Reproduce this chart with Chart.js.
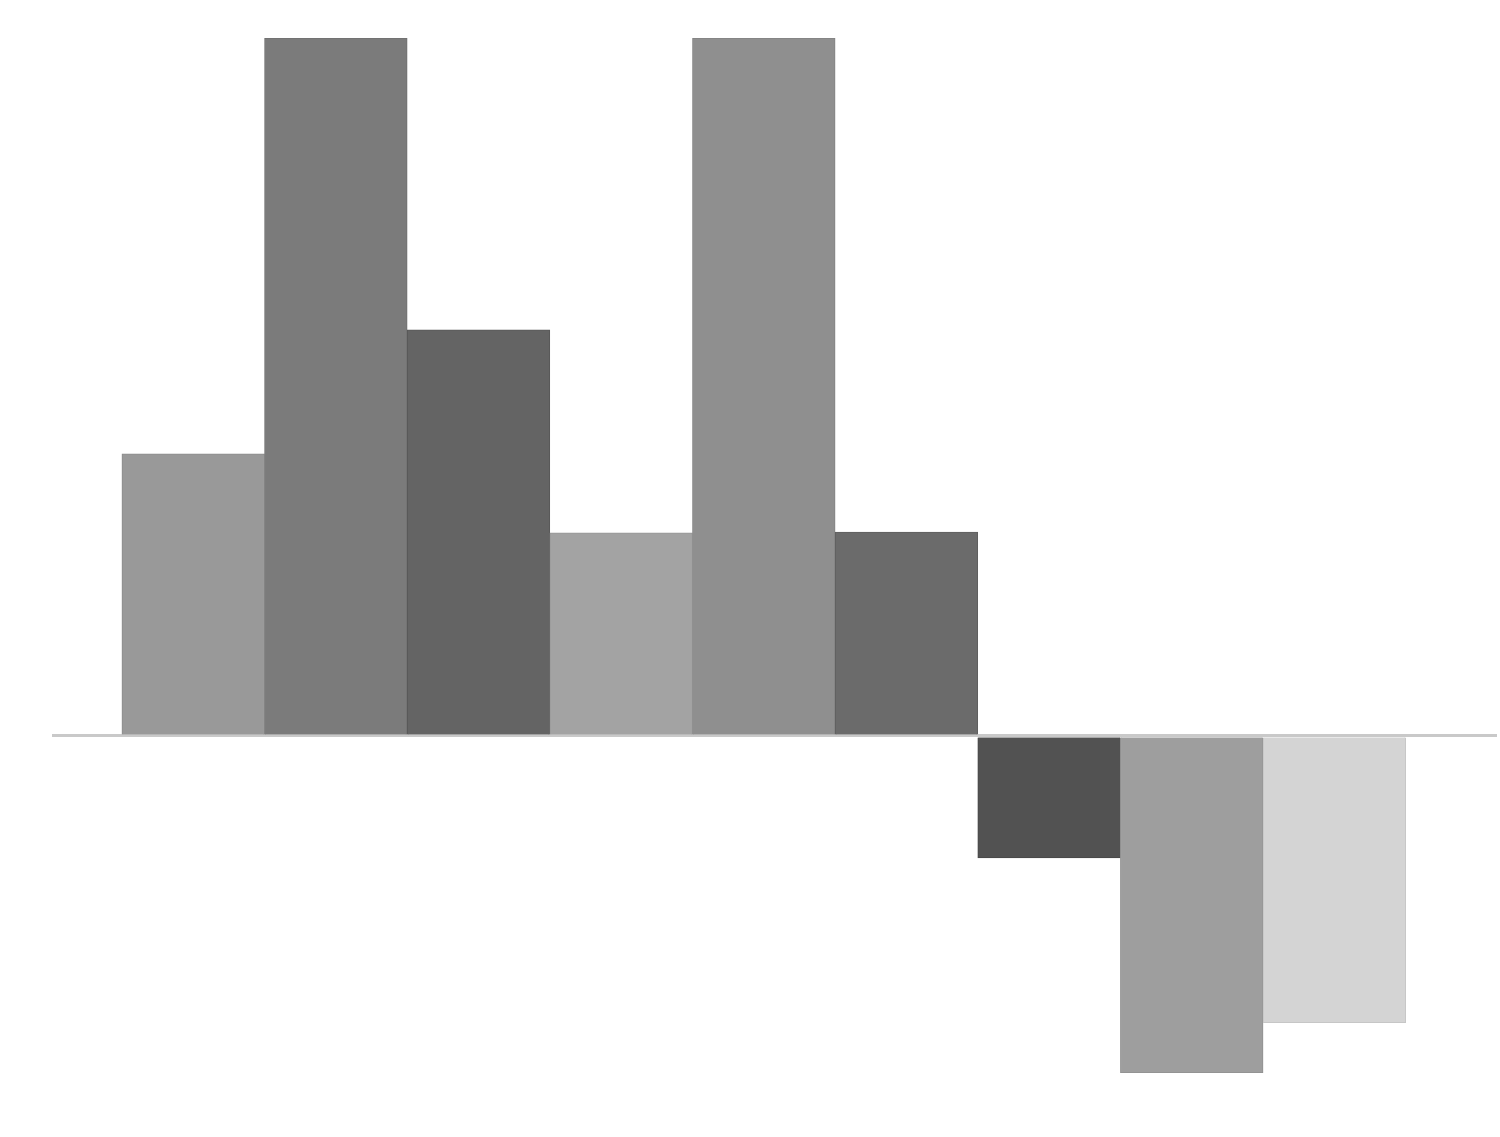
<!DOCTYPE html>
<html>
<head>
<meta charset="utf-8">
<script src="https://cdn.jsdelivr.net/npm/chart.js@4"></script>
<style>
html,body{margin:0;padding:0;background:#fff;}
#wrap{width:1500px;height:1137px;position:relative;}
</style>
</head>
<body>
<div id="wrap"><canvas id="c"></canvas></div>
<script>
const positions = [1, 2, 3, 4, 5, 6, 7, 8, 9];
const values = [40.4, 100, 58.2, 29.1, 100, 29.2, -17.5, -48.3, -41.1];
const fillColors = ['#999999', '#7b7b7b', '#646464', '#a3a3a3', '#8f8f8f', '#6b6b6b', '#525252', '#9e9e9e', '#d4d4d4'];
const edgeColors = ['#8c8c8c', '#6f6f6f', '#585858', '#969696', '#828282', '#5f5f5f', '#474747', '#8f8f8f', '#c6c6c6'];

const points = positions.map((p, i) => ({x: p, y: values[i]}));

new Chart(document.getElementById('c'), {
  type: 'bar',
  data: {
    datasets: [{
      data: points,
      backgroundColor: fillColors,
      borderColor: edgeColors,
      borderWidth: 1,
      barPercentage: 1,
      categoryPercentage: 1
    }]
  },
  options: {
    responsive: true,
    maintainAspectRatio: false,
    animation: false,
    devicePixelRatio: 1,
    layout: {padding: {left: 52, right: 3, top: 38, bottom: 64}},
    plugins: {legend: {display: false}, tooltip: {enabled: false}},
    scales: {
      x: {
        type: 'linear',
        min: 0.01,
        max: 10.14,
        offset: false,
        display: true,
        ticks: {display: false},
        grid: {display: false, drawTicks: false},
        border: {display: false}
      },
      y: {
        min: -48.3,
        max: 100,
        z: 1,
        ticks: {display: false, stepSize: 10},
        grid: {
          drawTicks: false,
          color: ctx => (ctx.tick && ctx.tick.value === 0) ? '#c9c9c9' : 'rgba(0,0,0,0)',
          lineWidth: ctx => (ctx.tick && ctx.tick.value === 0) ? 3 : 0
        },
        border: {display: false},
        afterFit: s => { s.width = 0; }
      }
    }
  }
});
</script>
</body>
</html>
